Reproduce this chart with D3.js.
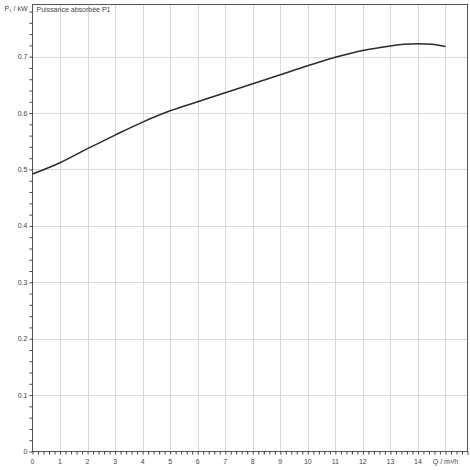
<!DOCTYPE html>
<html>
<head>
<meta charset="utf-8">
<script src="https://cdn.jsdelivr.net/npm/d3@7.9.0/dist/d3.min.js"></script>
<style>
  body { margin: 0; background: #fff; }
  svg text { font-family: "Liberation Sans", Arial, sans-serif; font-size: 7px; fill: #444; }
</style>
</head>
<body>
<svg width="470" height="470"></svg>
<script>
// flow Q (m3/h) and absorbed power P1 (kW)
const flow = [0, 1, 2, 3, 4, 5, 6, 7, 8, 9, 10, 11, 12, 13, 13.5, 14, 14.5, 15];
const power = [0.492, 0.512, 0.537, 0.561, 0.584, 0.604, 0.620, 0.636, 0.652, 0.668, 0.684, 0.699, 0.711, 0.719, 0.722, 0.723, 0.722, 0.718];

const xTicks = [0, 1, 2, 3, 4, 5, 6, 7, 8, 9, 10, 11, 12, 13, 14];
const yTicks = [0, 0.1, 0.2, 0.3, 0.4, 0.5, 0.6, 0.7];

const svg = d3.select('svg');
const plotL = 32.5, plotR = 467.5, plotT = 4.5, plotB = 451.5;

const x = d3.scaleLinear().domain([0, 15.8]).range([plotL, plotR]);
const y = d3.scaleLinear().domain([0, 0.7925]).range([plotB, plotT]);

// grid
svg.append('g').selectAll('line').data(d3.range(1, 16)).join('line')
  .attr('x1', d => Math.round(x(d)) + 0.5).attr('x2', d => Math.round(x(d)) + 0.5)
  .attr('y1', plotT).attr('y2', plotB)
  .attr('stroke', '#d9d9d9').attr('stroke-width', 1);
svg.append('g').selectAll('line').data(yTicks.slice(1)).join('line')
  .attr('y1', d => Math.round(y(d)) + 0.5).attr('y2', d => Math.round(y(d)) + 0.5)
  .attr('x1', plotL).attr('x2', plotR)
  .attr('stroke', '#d9d9d9').attr('stroke-width', 1);

// frame
svg.append('rect').attr('x', plotL).attr('y', plotT)
  .attr('width', plotR - plotL).attr('height', plotB - plotT)
  .attr('fill', 'none').attr('stroke', '#555').attr('stroke-width', 1);

// axes with minor ticks
const xAxis = d3.axisBottom(x).tickValues(d3.range(0, 15.81, 0.2)).tickSize(3).tickFormat('');
svg.append('g').attr('transform', `translate(0,${plotB})`).call(xAxis)
  .call(g => g.select('.domain').remove())
  .selectAll('line').attr('stroke', '#444');
const yAxis = d3.axisLeft(y).tickValues(d3.range(0, 0.7901, 0.02)).tickSize(3).tickFormat('');
svg.append('g').attr('transform', `translate(${plotL},0)`).call(yAxis)
  .call(g => g.select('.domain').remove())
  .selectAll('line').attr('stroke', '#444');

// tick labels
svg.append('g').selectAll('text').data(xTicks).join('text')
  .attr('x', d => x(d)).attr('y', plotB + 12)
  .attr('text-anchor', 'middle').text(d => d);
svg.append('text').attr('x', x(15)).attr('y', plotB + 12)
  .attr('text-anchor', 'middle').text('Q / m³/h');
svg.append('g').selectAll('text').data(yTicks).join('text')
  .attr('x', plotL - 5).attr('y', d => y(d) + 2.5)
  .attr('text-anchor', 'end').text(d => d);
svg.append('text').attr('x', plotL - 5).attr('y', 11)
  .attr('text-anchor', 'end').text('P₁ / kW');
svg.append('text').attr('x', plotL + 4).attr('y', 12).text('Puissance absorbée P1');

// curve
const line = d3.line().x((d, i) => x(flow[i])).y(d => y(d)).curve(d3.curveCatmullRom);
svg.append('path').attr('d', line(power))
  .attr('fill', 'none').attr('stroke', '#2a2a2a').attr('stroke-width', 1.5);
</script>
</body>
</html>
